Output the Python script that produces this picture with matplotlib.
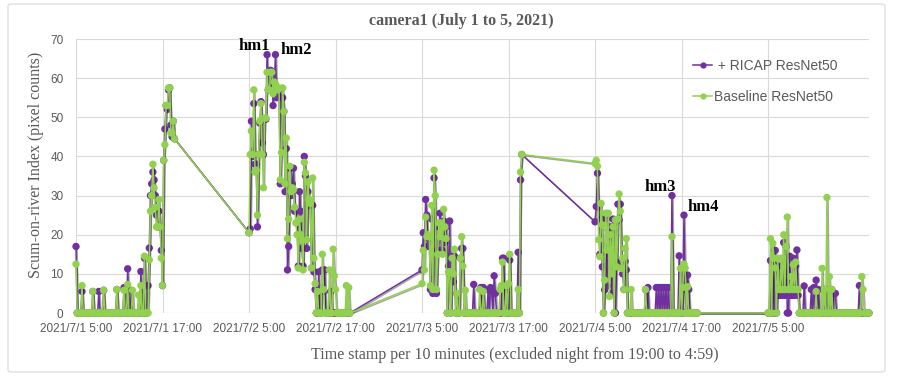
import numpy as np
import pandas as pd
import matplotlib
matplotlib.use("Agg")
import matplotlib.pyplot as plt
import matplotlib.patheffects as pe
from matplotlib.patches import FancyBboxPatch
from datetime import datetime

# one list per day, values every 10 minutes starting at 5:00
day_starts = ["2021-07-01 05:00", "2021-07-02 05:00", "2021-07-03 05:00",
              "2021-07-04 05:00", "2021-07-05 05:00"]

ricap_d1 = [17, 0, 0, 0, 0, 5.5, 0, 0, 0, 0,
            0, 0, 0, 0, 5.5, 0, 0, 0, 0, 5.5,
            0, 0, 0, 5.8, 0, 0, 0, 0, 0, 0,
            0, 0, 0, 0, 6, 0, 0, 0, 0, 0,
            6.5, 0, 0, 11.3, 0, 0, 5.8, 0, 0, 0,
            0, 0, 0, 0, 10.6, 0, 0, 14, 0, 0,
            7, 16.6, 30, 33, 36, 34, 30, 25, 22, 26,
            22, 16, 7, 39, 47, 53, 52, 57, 57.5, 48,
            45, 49, 44.5]
base_d1 = [12.5, 0, 0, 0, 0, 7, 0, 0, 0, 0,
           0, 0, 0, 0, 5.5, 0, 0, 0, 0, 0,
           0, 0, 0, 5.8, 0, 0, 0, 0, 0, 0,
           0, 0, 0, 0, 6, 0, 0, 0, 0, 0,
           5.8, 0, 0, 7.3, 0, 0, 0, 5.8, 0, 0,
           0, 0, 4.6, 0, 7, 0, 0, 14.5, 0, 0,
           0, 13.6, 26, 30, 38, 32, 27, 22, 22, 29,
           22, 14, 7, 39, 43, 53, 53, 57.5, 57.5, 46,
           46, 49, 44.5]

ricap_d2 = [20.5, 21.5, 49, 40, 53.5, 38, 38, 22, 40.5, 48.5,
            54, 43.5, 40.5, 49.5, 49.5, 66, 57, 57, 62, 61.5,
            53, 58, 66, 55, 56, 57, 33, 55, 55, 51.5,
            31, 42, 11, 17, 37, 30, 33, 37, 26, 26,
            23, 12, 31, 26, 16.5, 12, 40, 35, 16.5, 31,
            27.5, 28, 11.5, 27.5, 10.5, 6, 0, 0, 10.5, 0,
            0, 11, 5.5, 11, 0, 0, 0, 0, 5.5, 0,
            0, 0, 0, 0, 0, 0, 0, 0, 0, 0,
            0, 0, 0, 0, 0]
base_d2 = [20.5, 40.5, 46.5, 40.5, 57, 36, 36.5, 25, 40.5, 49,
           53.5, 40.5, 32, 49.8, 49.8, 61.5, 57, 57, 61.5, 61.5,
           56, 59, 58.5, 57.8, 57, 57.5, 34, 41, 57.5, 51.5,
           33, 44.7, 19, 24, 37.5, 31, 32, 31.5, 27, 23,
           20, 11.5, 24, 20, 18.5, 11, 38.5, 35.8, 18.7, 33.5,
           29, 28, 11.5, 34.5, 14, 7.5, 0, 5.5, 0, 0,
           0, 15, 6, 0, 0, 0, 0, 11, 0, 0,
           16.3, 9.5, 6, 0, 0, 0, 0, 0, 0, 0,
           0, 7, 0, 6.5, 0]

ricap_d3 = [11, 20.5, 17, 29, 25, 17, 19, 6, 24, 5,
            34.5, 22, 5, 16, 22, 25.5, 16, 16, 23.5, 18,
            22, 0, 12, 23.5, 0, 14.5, 8, 14.5, 0, 5,
            0, 0, 14, 16.5, 16.5, 0, 0, 0, 0, 0,
            0, 0, 0, 7.3, 0, 0, 0, 0, 0, 6.5,
            0, 6.5, 0, 0, 0, 6, 0, 6.5, 5.5, 0,
            9.5, 5, 0, 0, 0, 0, 0, 14, 14, 0,
            5.5, 0, 0, 13.5, 0, 0, 0, 0, 0, 0,
            15.5, 0, 34, 40.5]
base_d3 = [7.5, 16, 11, 24.5, 19.5, 20, 19.5, 7, 27.5, 6,
           36.5, 30, 6, 15, 23, 19.5, 23, 15, 26.5, 22,
           19, 0, 10.5, 10.5, 0, 14, 10, 16.3, 0, 5,
           0, 0, 14, 19.5, 12, 0, 5.8, 0, 0, 0,
           0, 0, 0, 0, 0, 0, 0, 0, 6, 0,
           0, 5.5, 0, 0, 0, 0, 0, 0, 0, 0,
           0, 0, 0, 0, 0, 6, 7, 13, 0, 0,
           7, 0, 7.5, 15, 0, 0, 0, 0, 0, 0,
           6, 0, 36, 40.5]

ricap_d4 = [23.3, 27.2, 35.7, 27, 15, 24, 11.8, 0, 5.9, 24,
            6.9, 21.2, 19.5, 22, 5, 24, 0, 0, 13, 27.8,
            23.8, 27.8, 12, 10, 6, 13.2, 11, 0, 0, 0,
            0, 0, 0, 0, 0, 0, 0, 0, 0, 0,
            0, 0, 6, 0, 6.5, 0, 0, 0, 0, 0,
            0, 6.5, 0, 6.5, 0, 6.5, 0, 6.5, 0, 6.5,
            0, 6.5, 0, 0, 30, 0, 0, 0, 0, 0,
            14.6, 0, 0, 0, 25, 6, 0, 9.7, 6, 0,
            0, 0, 0, 0, 0, 0]
base_d4 = [38.2, 39, 37.5, 18.7, 14.4, 28, 22.5, 0, 8.4, 25.5,
           16.1, 25.5, 4.2, 20, 10, 22, 0, 23.8, 11.8, 24,
           30.4, 26, 11.4, 14, 6, 16.5, 19, 0, 0, 0,
           6, 0, 0, 0, 0, 0, 0, 0, 0, 0,
           0, 0, 6, 0, 0, 0, 0, 0, 0, 0,
           0, 0, 0, 0, 0, 0, 0, 0, 0, 0,
           0, 0, 0, 0, 19.5, 0, 0, 0, 0, 0,
           0, 11.4, 0, 6.5, 12.5, 11.5, 0, 6.7, 0, 0,
           0, 0, 0, 0, 0, 0]

ricap_d5 = [0, 0, 13.4, 0, 12.5, 0, 16, 0, 12, 4.5,
            4.5, 12, 4.5, 18, 4.5, 17, 0, 0, 14.5, 4.5,
            4.5, 14, 4.5, 12, 16.1, 4.5, 0, 0, 0, 0,
            6.9, 0, 0, 0, 0, 0, 6, 0, 6.5, 0,
            8.4, 0, 6, 0, 0, 0, 0, 6, 0, 6,
            0, 0, 0, 6, 0, 5, 5, 0, 0, 0,
            0, 0, 0, 0, 0, 0, 0, 0, 0, 0,
            0, 0, 0, 0, 0, 0, 7, 0, 0, 0,
            0, 0, 0, 0, 0]
base_d5 = [0, 0, 19, 0, 17.8, 14, 11.5, 0, 14, 6,
           6, 14, 6, 20, 6, 17, 24.5, 6, 6, 9.3,
           6, 12.3, 6, 13, 6, 6, 0, 0, 0, 0,
           0, 0, 0, 0, 0, 0, 0, 0, 0, 0,
           5.5, 0, 0, 0, 0, 11.4, 0, 6, 0, 29.5,
           0, 9.3, 0, 6, 0, 0, 0, 0, 0, 0,
           0, 0, 0, 0, 0, 0, 0, 0, 0, 0,
           0, 0, 0, 0, 0, 0, 0, 0, 9.3, 6,
           0, 0, 0, 0, 0]

ricap_days = [ricap_d1, ricap_d2, ricap_d3, ricap_d4, ricap_d5]
base_days = [base_d1, base_d2, base_d3, base_d4, base_d5]

# annotation labels (time, value)
hm_labels = ["hm1", "hm2", "hm3", "hm4"]
hm_times = [datetime(2021, 7, 2, 5, 41), datetime(2021, 7, 2, 11, 31),
            datetime(2021, 7, 4, 14, 0), datetime(2021, 7, 4, 19, 59)]
hm_values = [68.2, 67.3, 32.2, 27.1]

PURPLE = "#7030A0"
GREEN = "#92D050"
GREY = "#595959"

times = []
ricap = []
base = []
for start, p, g in zip(day_starts, ricap_days, base_days):
    t = pd.date_range(start, periods=len(p), freq="10min")
    times.extend(t.to_pydatetime())
    ricap.extend(p)
    base.extend(g)

fig = plt.figure(figsize=(9.05, 3.77), dpi=100)
W, H = 905, 377
ax = fig.add_axes([76 / W, 1 - 313 / H, (869 - 76) / W, (313 - 39) / H])

# soft drop shadow like the spreadsheet chart
shadow = [pe.SimpleLineShadow(offset=(0.8, -0.8), shadow_color="black", alpha=0.35), pe.Normal()]

ax.plot(times, ricap, color=PURPLE, lw=1.1, marker="o", ms=5.3, mew=0,
        label=" + RICAP ResNet50", zorder=3, clip_on=False, path_effects=shadow)
ax.plot(times, base, color=GREEN, lw=1.1, marker="o", ms=5.3, mew=0,
        label="Baseline ResNet50", zorder=4, clip_on=False, path_effects=shadow)

x0 = pd.Timestamp("2021-07-01 05:00")
ax.set_xlim(x0, pd.Timestamp("2021-07-05 19:00"))
ax.set_ylim(0, 70)
ticks = [x0 + pd.Timedelta(hours=12 * k) for k in range(9)]
ax.set_xticks(ticks)
ax.set_xticklabels([f"{d.year}/{d.month}/{d.day} {d.hour}:{d.minute:02d}" for d in ticks])
ax.set_yticks(range(0, 80, 10))

ax.grid(True, color="#D9D9D9", lw=0.8)
ax.set_axisbelow(True)
for s in ax.spines.values():
    s.set_visible(False)
ax.tick_params(axis="both", length=0, labelcolor=GREY, labelsize=8.5)
ax.tick_params(axis="x", pad=7)
ax.tick_params(axis="y", pad=9)
for lab in ax.get_xticklabels() + ax.get_yticklabels():
    lab.set_family("Liberation Sans")

for lab, t, v in zip(hm_labels, hm_times, hm_values):
    ax.text(t, v, lab, ha="center", va="center", fontsize=12, fontweight="bold",
            family="Liberation Serif", color="black", zorder=6)

fig.text(461 / W, 1 - 21 / H, "camera1 (July 1 to 5, 2021)", ha="center", va="center",
         fontsize=11.5, fontweight="bold", family="Liberation Serif", color=GREY)
fig.text(36 / W, 1 - 165 / H, "Scum-on-river Index (pixel counts)", rotation=90,
         ha="center", va="center", fontsize=11.5, family="Liberation Serif", color=GREY)
fig.text(515 / W, 1 - 355 / H, "Time stamp per 10 minutes (excluded night from 19:00 to 4:59)",
         ha="center", va="center", fontsize=11.5, family="Liberation Serif", color=GREY)

leg = ax.legend(loc="upper left", bbox_to_anchor=(686 / W, 1 - 52 / H),
                bbox_transform=fig.transFigure, frameon=False,
                labelspacing=1.2, handlelength=1.4, handletextpad=0.15,
                borderpad=0, prop={"family": "Liberation Sans", "size": 10})
for txt in leg.get_texts():
    txt.set_color(GREY)
for h in leg.legend_handles:
    h.set_path_effects([])
    h.set_markersize(4.5)

border = FancyBboxPatch((8 / W, 5 / H), 877 / W, 368 / H, boxstyle="round,pad=0,rounding_size=0.005",
                        transform=fig.transFigure, fill=False, edgecolor="#D9D9D9", lw=0.8)
fig.patches.append(border)

fig.savefig("out.png", dpi=100)
